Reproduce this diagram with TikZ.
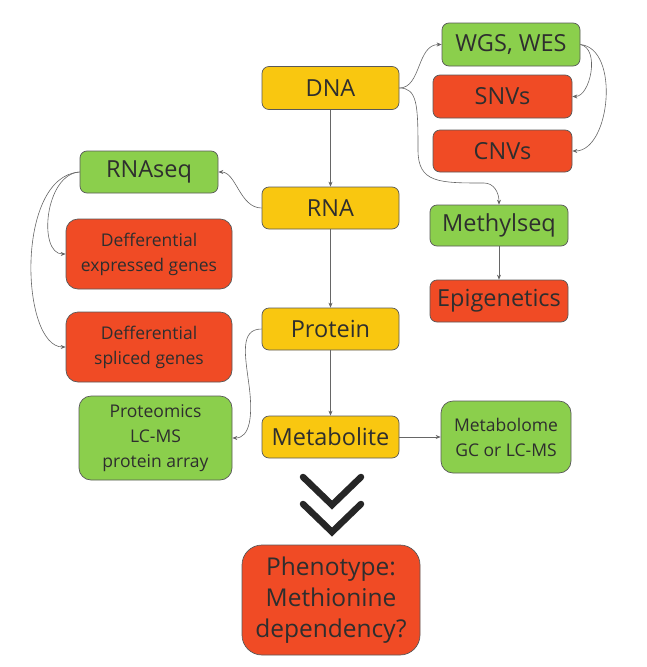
\documentclass[tikz,border=0pt]{standalone}
\usepackage{fontspec}
\setmainfont{Open Sans}
\usetikzlibrary{arrows.meta}
\definecolor{cyel}{HTML}{F9C710}
\definecolor{cgrn}{HTML}{8BCF4C}
\definecolor{cred}{HTML}{F04B25}
\definecolor{cline}{HTML}{666666}
\begin{document}
\begin{tikzpicture}[x=1pt,y=-1pt,
  box/.style={draw=black!65, line width=0.7pt, rounded corners=7pt, inner sep=0pt, align=center, text=black!82},
  big/.style={font=\fontsize{23.5}{28}\selectfont},
  small/.style={font=\fontsize{17.5}{25}\selectfont},
  yel/.style={box, big, fill=cyel},
  grn/.style={box, fill=cgrn},
  red/.style={box, fill=cred},
  conn/.style={draw=cline, line width=0.6pt, -{Stealth[length=5pt,width=4pt]}},
  chev/.style={draw=black!85, line width=6.5pt, line cap=round, line join=miter}
]
\useasboundingbox (0,0) rectangle (646,667);
% main column
\node[yel, minimum width=137pt, minimum height=43pt] (dna) at (330.5,88) {DNA};
\node[yel, minimum width=137pt, minimum height=42pt] (rna) at (330.5,208) {RNA};
\node[yel, minimum width=137pt, minimum height=42pt] (prot) at (330.5,329) {Protein};
\node[yel, minimum width=137pt, minimum height=42pt] (metab) at (330.5,437) {Metabolite};
% right
\node[grn, big, minimum width=138pt, minimum height=43pt] (wgs) at (511,44.5) {WGS, WES};
\node[red, big, minimum width=139pt, minimum height=43pt] (snv) at (502.5,96.5) {SNVs};
\node[red, big, minimum width=139pt, minimum height=42pt] (cnv) at (502.5,151) {CNVs};
\node[grn, big, minimum width=138pt, minimum height=41pt] (meth) at (499,225.5) {Methylseq};
\node[red, big, minimum width=138pt, minimum height=42pt] (epi) at (499,301) {Epigenetics};
\node[grn, small, minimum width=130pt, minimum height=72pt, rounded corners=12pt] (metome) at (506,437) {Metabolome\\GC or LC-MS};
% left
\node[grn, big, minimum width=138pt, minimum height=42pt] (rnaseq) at (149,172) {RNAseq};
\node[red, small, minimum width=166pt, minimum height=70pt, rounded corners=12pt] (dexp) at (149,254) {Defferential\\expressed genes};
\node[red, small, minimum width=166pt, minimum height=70pt, rounded corners=12pt] (dspl) at (149,347) {Defferential\\spliced genes};
\node[grn, small, minimum width=153pt, minimum height=84pt, rounded corners=12pt] (pomics) at (155.5,438) {Proteomics\\LC-MS\\protein array};
% phenotype
\node[red, font=\fontsize{24.5}{31}\selectfont, minimum width=178pt, minimum height=110pt, rounded corners=20pt] (pheno) at (331,600) {Phenotype:\\Methionine\\dependency?};
% chevrons
\draw[chev] (303,477) -- (332,505) -- (361,477);
\draw[chev] (303,504) -- (332,532) -- (361,504);
% connectors
\draw[conn] (dna) -- (rna);
\draw[conn] (rna) -- (prot);
\draw[conn] (prot) -- (metab);
\draw[conn] (meth) -- (epi);
\draw[conn] (metab) -- (metome);
\draw[conn] (dna.east) .. controls +(22,0) and +(-25,0) .. (wgs.west);
\coordinate (m1) at (418,150);
\coordinate (m2) at (484,183);
\draw[conn] (dna.east) .. controls +(18,0) and +(0,-45) .. (m1) .. controls +(0,33) and +(-45,0) .. (m2) .. controls +(10,0) and +(0,-12) .. (meth.north);
\draw[conn] (wgs.east) .. controls +(20,4) and +(18,0) .. (snv.east);
\draw[conn] (wgs.east) .. controls +(40,4) and +(38,0) .. (cnv.east);
\draw[conn] (rna.west) .. controls +(-22,0) and +(18,0) .. (rnaseq.east);
\draw[conn] (rnaseq.west) .. controls +(-35,2) and +(-28,0) .. (dexp.west);
\draw[conn] (rnaseq.west) .. controls +(-65,4) and +(-45,0) .. (dspl.west);
\coordinate (p1) at (249,385);
\draw[conn] (prot.west) .. controls +(-22,0) and +(-4,-30) .. (p1) .. controls +(4,30) and +(18,0) .. (pomics.east);
\end{tikzpicture}
\end{document}
